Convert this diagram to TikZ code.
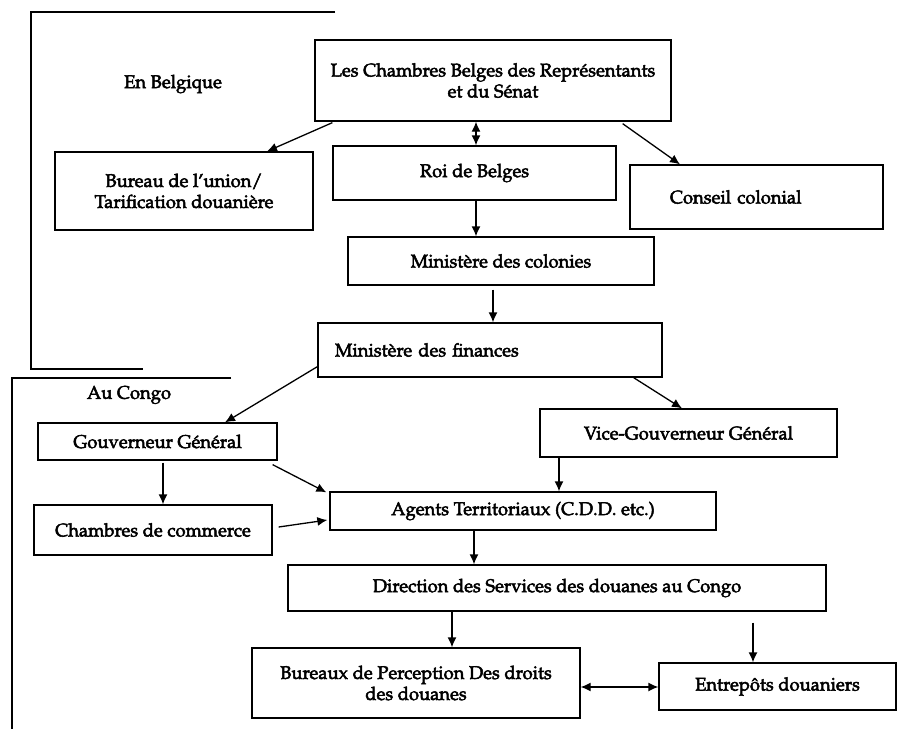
\documentclass[tikz,border=0pt]{standalone}
\usepackage[T1]{fontenc}
\usepackage{mathpazo}
\usetikzlibrary{arrows.meta,calc}
\newcommand{\heavytext}{\special{pdf:literal direct 2 Tr 0.5 w}}
\begin{document}
\begin{tikzpicture}[x=1pt,y=-1pt]
\tikzset{
 bx/.style={draw, line width=1.3pt, inner sep=0pt, align=center, font=\fontsize{18.4}{21}\selectfont\heavytext},
 lbl/.style={inner sep=0pt, font=\fontsize{18.4}{21}\selectfont\heavytext},
 arr/.style={line width=1.3pt, -{Latex[length=10pt,width=9pt]}},
 darr/.style={line width=1.3pt, {Latex[length=10pt,width=9pt]}-{Latex[length=10pt,width=9pt]}},
 frm/.style={line width=1.3pt}
}
\useasboundingbox (0,0) rectangle (919,729);
% frames
\draw[frm] (335,12) -- (31,12) -- (31,369) -- (143,369);
\draw[frm] (231,378) -- (12,378) -- (12,729);
\node[lbl] (enb) at (173,84) {En Belgique};
\node[lbl] (auc) at (129,395) {Au Congo};
% boxes
\node[bx,minimum width=356pt,minimum height=81pt] (ch) at (493,80.5) {Les Chambres Belges des Repr\'esentants\\et du S\'enat};
\node[bx,minimum width=258pt,minimum height=78pt] (bu) at (184,191) {Bureau de l'union/\\Tarification douani\`ere};
\node[bx,minimum width=283pt,minimum height=54pt] (roi) at (474.5,173) {Roi de Belges};
\node[bx,minimum width=253pt,minimum height=64pt,text width=173pt,inner xsep=40pt,align=left] (cc) at (756.5,197) {Conseil colonial};
\node[bx,minimum width=306pt,minimum height=48pt] (mc) at (501,261) {Minist\`ere des colonies};
\node[bx,minimum width=344pt,minimum height=54pt,text width=310pt,inner xsep=17pt,align=left] (mf) at (490,350) {Minist\`ere des finances};
\node[bx,minimum width=239pt,minimum height=37pt] (gg) at (157.5,441.5) {Gouverneur G\'en\'eral};
\node[bx,minimum width=297pt,minimum height=48pt] (vg) at (688.5,433) {Vice-Gouverneur G\'en\'eral};
\node[bx,minimum width=386pt,minimum height=38pt] (ag) at (523,511) {Agents Territoriaux (C.D.D. etc.)};
\node[bx,minimum width=238pt,minimum height=50pt] (cm) at (153,530) {Chambres de commerce};
\node[bx,minimum width=538pt,minimum height=46pt] (dir) at (557,588) {Direction des Services des douanes au Congo};
\node[bx,minimum width=328pt,minimum height=70pt] (bp) at (416,683) {Bureaux de Perception Des droits\\des douanes};
\node[bx,minimum width=237pt,minimum height=47pt] (ep) at (777.5,686.5) {Entrep\^ots douaniers};
% connectors
\draw[arr] ($(ch.south west)+(18,1)$) -- ($(bu.north)+(83,0)$);
\draw[darr] ($(ch.south)+(-17,0)$) -- ($(roi.north)+(1.5,0)$);
\draw[arr] ($(ch.south east)+(-49,2)$) -- ($(cc.north)+(-76.5,0)$);
\draw[arr] ($(roi.south)+(1.5,0)$) -- ($(mc.north)+(-25,0)$);
\draw[arr] ($(mc.south)+(-8,4)$) -- ($(mf.north)+(3,0)$);
\draw[arr] ($(mf.south west)+(0,-11)$) -- ($(gg.north)+(67.5,0)$);
\draw[arr] ($(mf.south east)+(-29,0)$) -- ($(vg.north)+(-6.5,0)$);
\draw[arr] ($(vg.south)+(-129.5,0)$) -- ($(ag.north)+(36,0)$);
\draw[arr] ($(gg.south east)+(-5,4)$) -- ($(ag.north west)+(-3,1)$);
\draw[arr] ($(gg.south)+(5.5,2)$) -- ($(cm.north)+(10,0)$);
\draw[arr] ($(cm.east)+(6,-3)$) -- ($(ag.west)+(-2,9)$);
\draw[arr] ($(ag.south)+(-49,0)$) -- ($(dir.north)+(-83,0)$);
\draw[arr] ($(dir.south)+(-105,0)$) -- ($(bp.north)+(36,0)$);
\draw[arr] ($(dir.south)+(196,11)$) -- ($(ep.north)+(-24.5,0)$);
\draw[darr] ($(bp.east)+(0,4)$) -- ($(ep.west)+(0,0.5)$);
\end{tikzpicture}
\end{document}
